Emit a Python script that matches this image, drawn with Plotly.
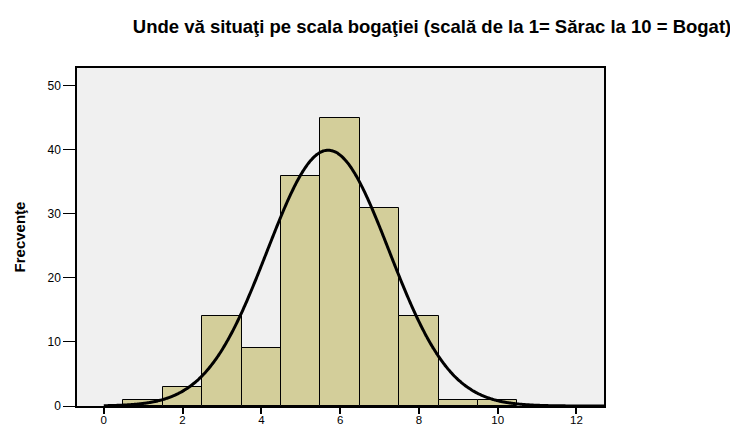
import numpy as np
import plotly.graph_objects as go

# Data
categories = [1, 2, 3, 4, 5, 6, 7, 8, 9, 10]
frequencies = [1, 3, 14, 9, 36, 45, 31, 14, 1, 1]
x_ticks = [0, 2, 4, 6, 8, 10, 12]
y_ticks = [0, 10, 20, 30, 40, 50]

# Normal curve fitted from the data (mean and sd of the distribution)
vals = np.array(categories, dtype=float)
freq = np.array(frequencies, dtype=float)
n = freq.sum()
mean = (vals * freq).sum() / n
sd = np.sqrt(((vals - mean) ** 2 * freq).sum() / (n - 1))
xc = np.linspace(0, 12.7, 400)
yc = n * 1.0 / (sd * np.sqrt(2 * np.pi)) * np.exp(-0.5 * ((xc - mean) / sd) ** 2)

fig = go.Figure()
fig.add_trace(go.Bar(
    x=categories, y=frequencies, width=1,
    marker=dict(color="#D3CE9A", line=dict(color="black", width=1)),
    hoverinfo="x+y", showlegend=False,
))
fig.add_trace(go.Scatter(
    x=xc, y=yc, mode="lines",
    line=dict(color="black", width=3, shape="spline"),
    showlegend=False, hoverinfo="skip",
))

fig.update_layout(
    width=738, height=424,
    margin=dict(l=69, r=142, t=60, b=26, autoexpand=False),
    paper_bgcolor="white", plot_bgcolor="#F0F0F0",
    bargap=0,
    font=dict(family="Liberation Sans, Arial, sans-serif", color="black", size=12),
    title=dict(
        text="<b>Unde vă situaţi pe scala bogaţiei (scală de la 1= Sărac la 10 = Bogat)</b>",
        x=424 / 738, xanchor="center", y=1 - 19 / 424, yanchor="middle",
        font=dict(size=18.5, family="Liberation Sans, Arial, sans-serif", color="black"),
    ),
    xaxis=dict(
        range=[-0.68, 12.7], tickvals=x_ticks, ticks="outside", ticklen=6,
        tickwidth=1.5, tickcolor="black", showgrid=False, zeroline=False,
        showline=True, linecolor="black", linewidth=1.5, mirror=True,
        tickfont=dict(size=11.5), automargin=False, ticklabelstandoff=-4,
    ),
    yaxis=dict(
        range=[0, 52.8], tickvals=y_ticks, ticks="outside", ticklen=12,
        tickwidth=1, tickcolor="black", showgrid=False, zeroline=False,
        showline=True, linecolor="black", linewidth=1.5, mirror=True,
        tickfont=dict(size=12), automargin=False,
        title=dict(text="<b>Frecvenţe</b>", standoff=18,
                   font=dict(size=15, family="Liberation Sans Narrow, Liberation Sans, Arial")),
    ),
)

fig.write_html("out.html")
